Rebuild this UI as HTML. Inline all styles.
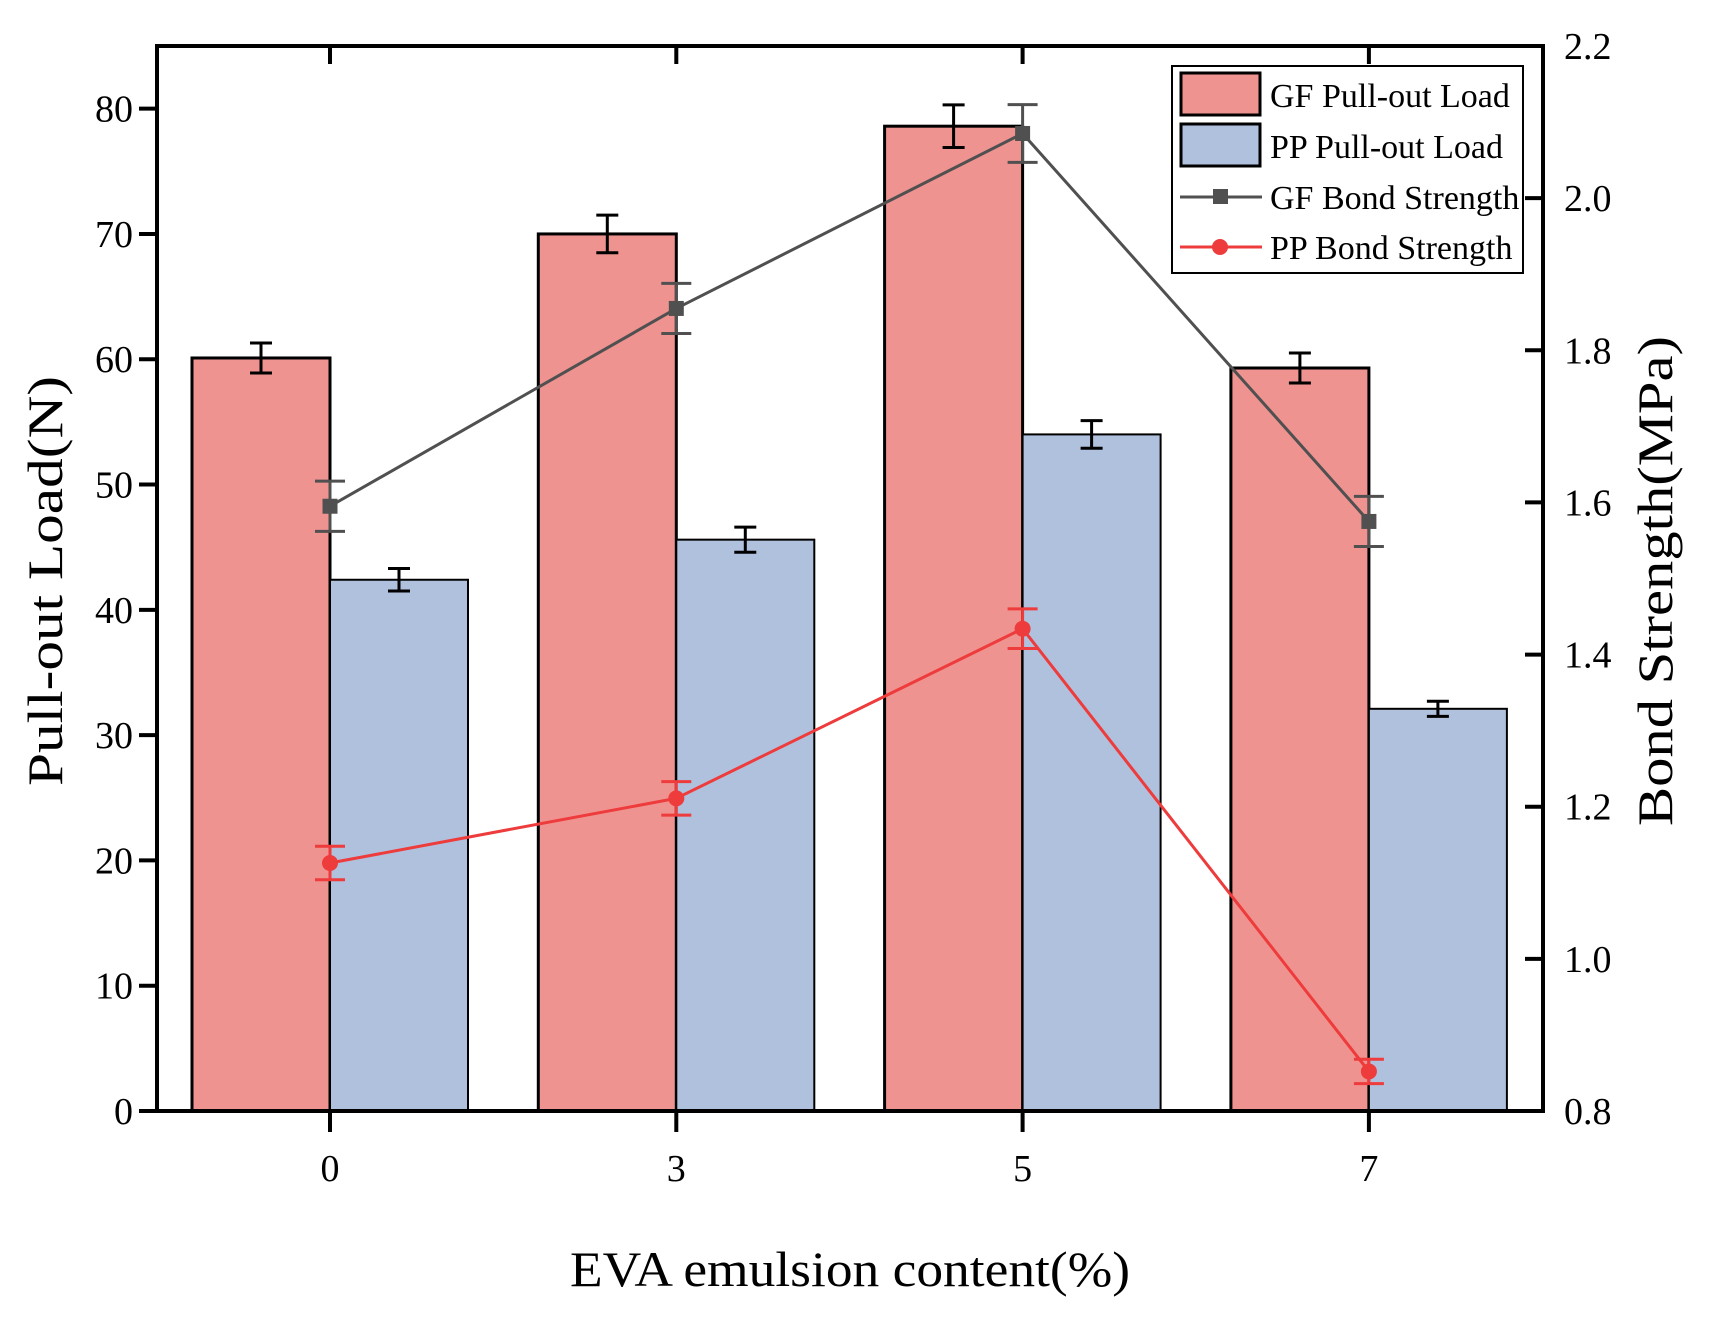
<!DOCTYPE html>
<html><head><meta charset="utf-8"><style>
body{margin:0;background:#fff}
svg text{font-family:"Liberation Serif",serif;fill:#000}
</style></head><body>
<svg id="chart" width="1736" height="1323" viewBox="0 0 1736 1323" xmlns="http://www.w3.org/2000/svg">
<g id="bars"></g>
<g id="lines"></g>
<g id="axes"></g>
<text x="850" y="1286" font-size="50" text-anchor="middle" textLength="560" lengthAdjust="spacingAndGlyphs">EVA emulsion content(%)</text>
<text transform="translate(62,581) rotate(-90)" font-size="50" text-anchor="middle" textLength="410" lengthAdjust="spacingAndGlyphs">Pull-out Load(N)</text>
<text transform="translate(1672,581) rotate(-90)" font-size="50" text-anchor="middle" textLength="490" lengthAdjust="spacingAndGlyphs">Bond Strength(MPa)</text>
<g>
<rect x="1172" y="66" width="351" height="207" fill="#fff" stroke="#000" stroke-width="2"/>
<rect x="1181" y="73" width="79" height="42" fill="#EF9391" stroke="#000" stroke-width="3"/>
<text x="1270" y="107" font-size="34">GF Pull-out Load</text>
<rect x="1181" y="124" width="79" height="42" fill="#B0C1DE" stroke="#000" stroke-width="3"/>
<text x="1270" y="158" font-size="34">PP Pull-out Load</text>
<line x1="1180" y1="197" x2="1262" y2="197" stroke="#505050" stroke-width="3"/>
<rect x="1213" y="189" width="15" height="15" fill="#505050"/>
<text x="1270" y="209" font-size="34">GF Bond Strength</text>
<line x1="1180" y1="247" x2="1262" y2="247" stroke="#EE3B3B" stroke-width="3"/>
<circle cx="1220" cy="247" r="8" fill="#EE3B3B"/>
<text x="1270" y="259" font-size="34">PP Bond Strength</text>
</g>
</svg>
<script>
const categories = ["0","3","5","7"];
const gfLoad = [60.1, 70.0, 78.6, 59.3];
const gfLoadErr = [1.2, 1.5, 1.7, 1.2];
const ppLoad = [42.4, 45.6, 54.0, 32.1];
const ppLoadErr = [0.9, 1.0, 1.1, 0.6];
const gfBond = [1.595, 1.855, 2.085, 1.575];
const gfBondErr = [0.033, 0.033, 0.038, 0.033];
const ppBond = [1.126, 1.211, 1.434, 0.852];
const ppBondErr = [0.022, 0.022, 0.026, 0.016];
const leftTicks = [0,10,20,30,40,50,60,70,80];
const rightTicks = [0.8,1.0,1.2,1.4,1.6,1.8,2.0,2.2];

const NS="http://www.w3.org/2000/svg";
const L=157,R=1543,T=46,B=1111;
const xc=i=>330+i*346.3;
const yL=v=>B-(v/85)*(B-T);
const yR=v=>B-((v-0.8)/1.4)*(B-T);
const bw=138;
function mk(tag,attrs,parent){const e=document.createElementNS(NS,tag);for(const k in attrs)e.setAttribute(k,attrs[k]);parent.appendChild(e);return e;}
const gb=document.getElementById('bars'),gl=document.getElementById('lines'),ga=document.getElementById('axes');
function errbar(x,y1,y2,cap,color,w,parent){
  mk('line',{x1:x,y1:y1,x2:x,y2:y2,stroke:color,'stroke-width':w},parent);
  mk('line',{x1:x-cap,y1:y1,x2:x+cap,y2:y1,stroke:color,'stroke-width':w},parent);
  mk('line',{x1:x-cap,y1:y2,x2:x+cap,y2:y2,stroke:color,'stroke-width':w},parent);
}
categories.forEach((c,i)=>{
  const x=xc(i);
  let r=mk('rect',{x:x-bw,y:yL(gfLoad[i]),width:bw,height:B-yL(gfLoad[i]),fill:'#EF9391',stroke:'#000','stroke-width':3},gb);
  
  
  r=mk('rect',{x:x,y:yL(ppLoad[i]),width:bw,height:B-yL(ppLoad[i]),fill:'#B0C1DE',stroke:'#000','stroke-width':2},gb);
  
  
  errbar(x-bw/2,yL(gfLoad[i]+gfLoadErr[i]),yL(gfLoad[i]-gfLoadErr[i]),11,'#000',3,gb);
  errbar(x+bw/2,yL(ppLoad[i]+ppLoadErr[i]),yL(ppLoad[i]-ppLoadErr[i]),11,'#000',3,gb);
});
function series(vals,errs,color,marker,name){
  const pts=vals.map((v,i)=>xc(i)+','+yR(v)).join(' ');
  const pl=mk('polyline',{points:pts,fill:'none',stroke:color,'stroke-width':3},gl);
  
  
  vals.forEach((v,i)=>{
    errbar(xc(i),yR(v+errs[i]),yR(v-errs[i]),15,color,3,gl);
    let m;
    if(marker==='sq') m=mk('rect',{x:xc(i)-7.5,y:yR(v)-7.5,width:15,height:15,fill:color},gl);
    else m=mk('circle',{cx:xc(i),cy:yR(v),r:8,fill:color},gl);
    
    
  });
}
series(gfBond,gfBondErr,'#505050','sq','gf-bond');
series(ppBond,ppBondErr,'#EE3B3B','ci','pp-bond');
mk('rect',{x:L,y:T,width:R-L,height:B-T,fill:'none',stroke:'#000','stroke-width':4},ga);
leftTicks.forEach(v=>{
  mk('line',{x1:L-18,y1:yL(v),x2:L,y2:yL(v),stroke:'#000','stroke-width':4},ga);
  const t=mk('text',{x:L-24,y:yL(v)+13,'font-size':38,'text-anchor':'end'},ga);
  t.textContent=v;
  
  
});
rightTicks.forEach(v=>{
  mk('line',{x1:R-18,y1:yR(v),x2:R,y2:yR(v),stroke:'#000','stroke-width':4},ga);
  const t=mk('text',{x:R+21,y:yR(v)+13,'font-size':38},ga);
  t.textContent=v.toFixed(1);
  
  
});
categories.forEach((c,i)=>{
  mk('line',{x1:xc(i),y1:B,x2:xc(i),y2:B+21,stroke:'#000','stroke-width':4},ga);
  mk('line',{x1:xc(i),y1:T,x2:xc(i),y2:T+18,stroke:'#000','stroke-width':4},ga);
  const t=mk('text',{x:xc(i),y:B+70,'font-size':38,'text-anchor':'middle'},ga);
  t.textContent=c;
  
  
});
</script>
</body></html>
